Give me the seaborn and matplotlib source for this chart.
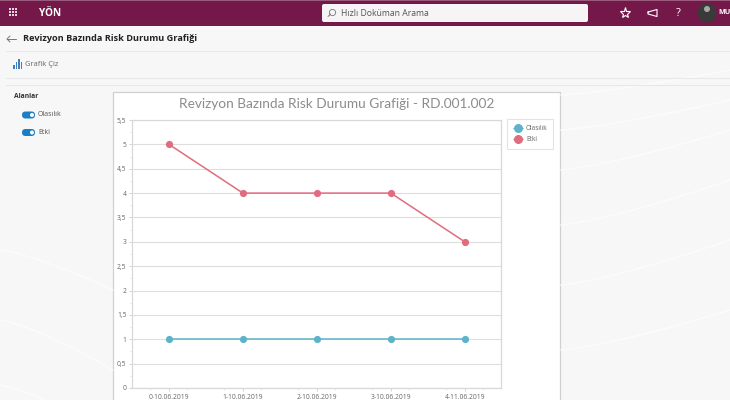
import numpy as np
import pandas as pd
import matplotlib
matplotlib.use('Agg')
import matplotlib.pyplot as plt
from matplotlib.patches import Rectangle, FancyBboxPatch, Circle
import seaborn as sns

revisions = ['0-10.06.2019', '1-10.06.2019', '2-10.06.2019', '3-10.06.2019', '4-11.06.2019']
olasilik = [1, 1, 1, 1, 1]
etki = [5, 4, 4, 4, 3]
y_ticks = [0, 0.5, 1, 1.5, 2, 2.5, 3, 3.5, 4, 4.5, 5, 5.5]
y_labels = ['0', '0,5', '1', '1,5', '2', '2,5', '3', '3,5', '4', '4,5', '5', '5,5']

W, H = 730, 400
BLUE = '#5fb3c9'
RED = '#e06c7f'

sns.set_theme(style='white')
plt.rcParams['font.family'] = ['Open Sans', 'DejaVu Sans']

fig = plt.figure(figsize=(W / 100, H / 100), dpi=100, facecolor='#f7f7f7')

# page chrome, drawn in pixel coordinates
bg = fig.add_axes([0, 0, 1, 1])
bg.set_xlim(0, W); bg.set_ylim(H, 0); bg.axis('off')

# faint white swooshes of the page background
for y0, bend in [(95, 25), (130, 30), (170, 40), (225, 45), (285, 45), (350, 40)]:
    xs = np.linspace(560, 730, 40)
    bg.plot(xs, y0 - bend * ((xs - 560) / 170) ** 1.3, color='white', lw=1.2, alpha=0.55)
for y0, bend in [(250, 40), (320, 50), (385, 50)]:
    xs = np.linspace(0, 113, 30)
    bg.plot(xs, y0 + bend * (xs / 113) ** 1.3, color='white', lw=1.2, alpha=0.5)

bg.add_patch(Rectangle((0, 0), W, 26, color='#74184a', lw=0))
bg.add_patch(Rectangle((0, 0), W, 1, color='#9a5a7c', lw=0))
for gx in (9, 12, 15):
    for gy in (9, 12, 15):
        bg.add_patch(Rectangle((gx, gy - 1), 2, 2, color='#e9d6e0', lw=0))
bg.text(39, 13, 'YÖN', color='white', fontsize=7.2, fontweight='bold', va='center')
bg.add_patch(FancyBboxPatch((322, 4), 266, 18, boxstyle='round,pad=0,rounding_size=2',
                            fc='#f6f4f5', ec='none'))
bg.plot([332], [12], marker='o', ms=4.5, mfc='none', mec='#777777', mew=0.6)
bg.plot([328, 330.5], [16.5, 14], color='#777777', lw=0.7)
bg.text(341, 13, 'Hızlı Doküman Arama', color='#555555', fontsize=6.2, va='center')
bg.plot([625], [13], marker='*', ms=8, mfc='none', mec='white', mew=0.8)
bg.plot([648, 657, 657, 648, 648], [12, 9.5, 16.5, 14, 12], color='white', lw=0.8)
bg.text(678, 13, '?', color='white', fontsize=8, ha='center', va='center')
bg.add_patch(Circle((707, 13), 9.5, color='#3a3a3a', lw=0))
bg.add_patch(Circle((707, 9), 3, color='#a8a8a8', lw=0))
bg.text(718, 13, 'MU', color='white', fontsize=5.2, fontweight='bold', va='center')

bg.plot([7, 16], [39, 39], color='#777777', lw=0.7)
bg.plot([10, 7, 10], [36, 39, 42], color='#777777', lw=0.7)
bg.text(23, 38.5, 'Revizyon Bazında Risk Durumu Grafiği', color='#222222', fontsize=6.55,
        fontweight='bold', va='center')
bg.plot([6, W], [50.5, 50.5], color='#e8e8e8', lw=0.8)
for bx, bh in zip((13, 15.5, 18, 20.5), (4, 7, 10, 7)):
    bg.add_patch(Rectangle((bx, 69 - bh), 1.8, bh, color='#3f7fc1', lw=0))
bg.text(25, 64.5, 'Grafik Çiz', color='#666666', fontsize=5.4, va='center')
bg.plot([6, W], [77.5, 77.5], color='#e8e8e8', lw=0.8)
bg.plot([6, W], [84.5, 84.5], color='#e8e8e8', lw=0.8)

bg.text(13.5, 96.5, 'Alanlar', color='#333333', fontsize=4.9, fontweight='bold', va='center')
for ty, label in [(115, 'Olasılık'), (132.5, 'Etki')]:
    bg.add_patch(FancyBboxPatch((22, ty - 3.5), 13, 7, boxstyle='round,pad=0,rounding_size=3.5',
                                fc='#1c7fc6', ec='none'))
    bg.add_patch(Circle((32, ty), 2, color='white', lw=0))
    bg.text(38, ty, label, color='#555555', fontsize=5, va='center')

# chart card
bg.add_patch(Rectangle((113, 92), 447, 320, fc='white', ec='#d0d0d0', lw=0.9))
bg.text(337, 103.5, 'Revizyon Bazında Risk Durumu Grafiği - RD.001.002', color='#8c8c8c',
        fontsize=9.8, family='Lato', ha='center', va='center')

# main plot area
ax = fig.add_axes([132 / W, 1 - 388 / H, 369 / W, 268 / H])
df = pd.DataFrame({'Revizyon': revisions * 2,
                   'Seri': ['Olasılık'] * 5 + ['Etki'] * 5,
                   'Deger': olasilik + etki})
sns.lineplot(data=df, x='Revizyon', y='Deger', hue='Seri', palette=[BLUE, RED],
             marker='o', markersize=5.2, markeredgewidth=0, linewidth=1.1, sort=False, ax=ax)

ax.set_xlim(-0.5, 4.49)
ax.set_ylim(0, 5.5)
ax.set_yticks(y_ticks, y_labels)
ax.set_yticks(np.arange(0.25, 5.5, 0.5), minor=True)
ax.set_xticks(np.arange(-0.25, 4.5, 0.5), minor=True)
ax.set_xlabel(''); ax.set_ylabel('')
ax.grid(axis='y', color='#dedede', lw=0.8)
ax.set_axisbelow(True)
ax.tick_params(axis='both', which='major', length=2.5, width=0.6, color='#cccccc',
               labelsize=4.9, labelcolor='#666666', pad=1.5, bottom=True, left=True)
ax.tick_params(axis='both', which='minor', length=1.2, width=0.5, color='#dddddd',
               bottom=True, left=True)
for s in ax.spines.values():
    s.set_color('#d8d8d8'); s.set_linewidth(0.9)

leg = ax.legend(title=None, loc='upper left', bbox_to_anchor=((507 - 132) / 369, 1.003),
                borderaxespad=0, fontsize=4.7, labelcolor='#666666', frameon=True,
                fancybox=False, edgecolor='#dddddd', handlelength=1.5, handletextpad=0.5,
                borderpad=0.9, labelspacing=0.6)
leg.get_frame().set_linewidth(0.8)
for line in leg.get_lines():
    line.set_linewidth(0.6)
    line.set_markersize(6.5)

fig.savefig('out.png', dpi=100, facecolor=fig.get_facecolor())
